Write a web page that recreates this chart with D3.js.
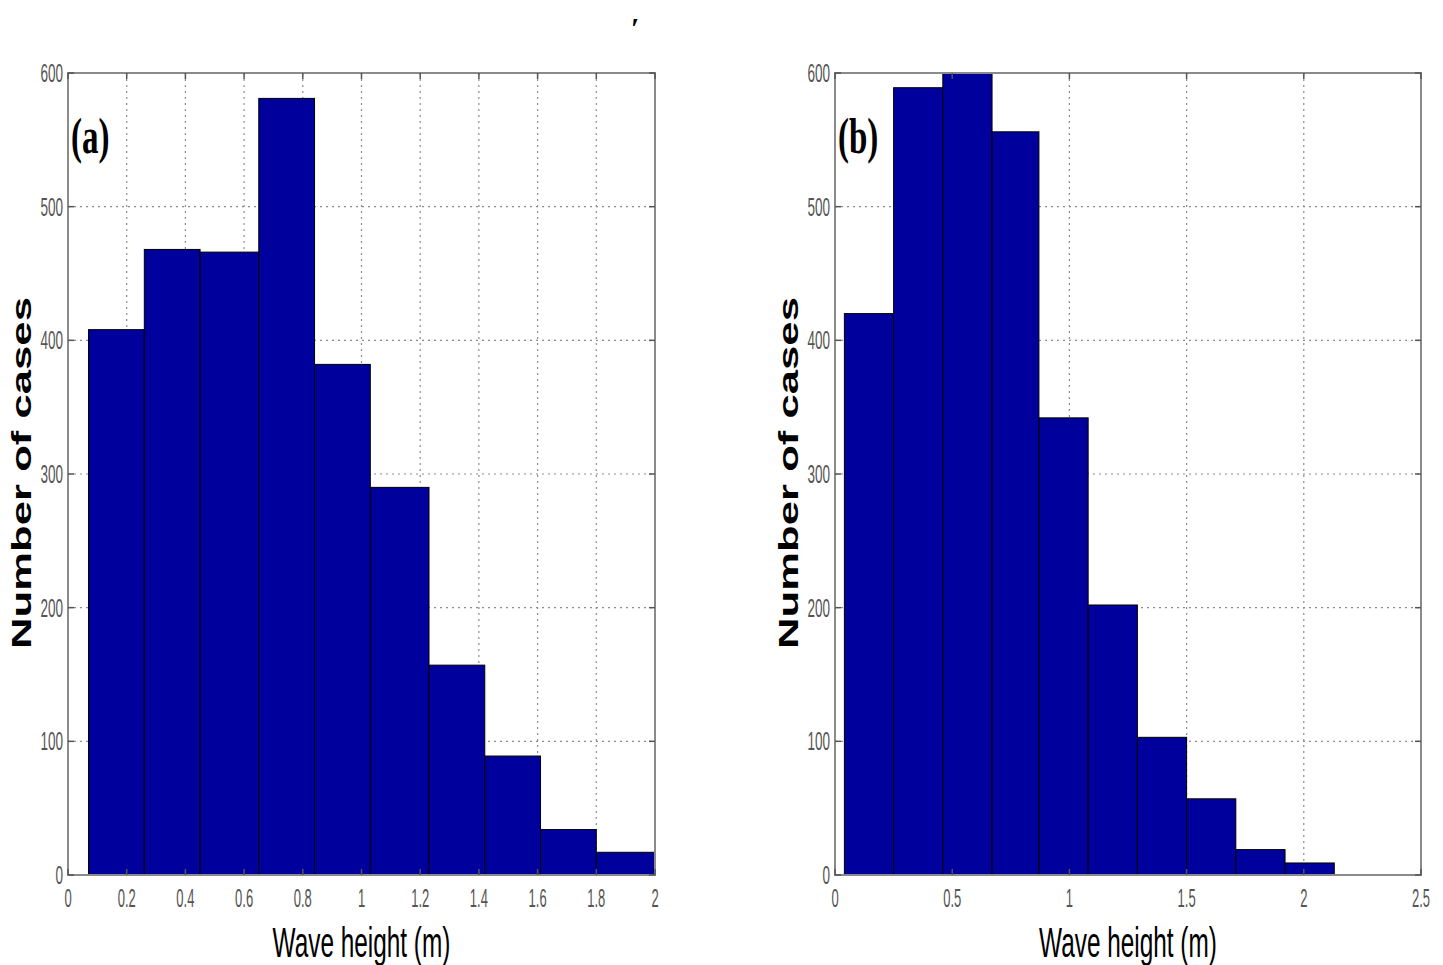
<!DOCTYPE html>
<html>
<head>
<meta charset="utf-8">
<script src="https://cdn.jsdelivr.net/npm/d3@7"></script>
<style>
  html, body { margin: 0; padding: 0; background: #fff; }
  svg { display: block; }
</style>
</head>
<body>
<svg id="chart" width="1443" height="965"></svg>
<script>
// Histogram (a): bin edges (m) and counts
const binEdgesA = [0.07, 0.26, 0.45, 0.65, 0.84, 1.03, 1.23, 1.42, 1.61, 1.80, 2.00];
const countsA   = [408, 468, 466, 581, 382, 290, 157, 89, 34, 17];
const xTicksA   = [0, 0.2, 0.4, 0.6, 0.8, 1, 1.2, 1.4, 1.6, 1.8, 2];
const xTickLabelsA = ["0", "0.2", "0.4", "0.6", "0.8", "1", "1.2", "1.4", "1.6", "1.8", "2"];

// Histogram (b): bin edges (m) and counts
const binEdgesB = [0.04, 0.25, 0.46, 0.67, 0.87, 1.08, 1.29, 1.50, 1.71, 1.92, 2.13];
const countsB   = [420, 589, 600, 556, 342, 202, 103, 57, 19, 9];
const xTicksB   = [0, 0.5, 1, 1.5, 2, 2.5];
const xTickLabelsB = ["0", "0.5", "1", "1.5", "2", "2.5"];

// Shared y axis
const yTicks = [0, 100, 200, 300, 400, 500, 600];
const yTickLabels = ["0", "100", "200", "300", "400", "500", "600"];

const xLabel = "Wave height (m)";
const yLabel = "Number of cases";

const svg = d3.select("#chart");
const barFill = "#00009c";
const axisGrey = "#8a8a8a";

function panel(opts) {
  const { left, right, top, bottom, xMax, edges, counts, xTicks, xTickLabels, tag, gridTop } = opts;
  const x = d3.scaleLinear().domain([0, xMax]).range([left, right]);
  const y = d3.scaleLinear().domain([0, 600]).range([bottom, top]);
  const g = svg.append("g");

  // dotted grid
  g.append("g").selectAll("line").data(xTicks.slice(1, -1)).join("line")
    .attr("x1", d => x(d)).attr("x2", d => x(d))
    .attr("y1", top).attr("y2", bottom)
    .attr("stroke", "#8c8c8c").attr("stroke-width", 1.2)
    .attr("stroke-dasharray", "2,4");
  const gridY = gridTop ? yTicks.slice(1) : yTicks.slice(1, -1);
  g.append("g").selectAll("line").data(gridY).join("line")
    .attr("x1", left).attr("x2", right)
    .attr("y1", d => y(d)).attr("y2", d => y(d))
    .attr("stroke", "#8c8c8c").attr("stroke-width", 1.2)
    .attr("stroke-dasharray", "2,4");

  // bars
  const bins = counts.map((c, i) => ({ x0: edges[i], x1: edges[i + 1], n: c }));
  g.append("g").selectAll("rect").data(bins).join("rect")
    .attr("x", d => x(d.x0))
    .attr("y", d => y(d.n))
    .attr("width", d => x(d.x1) - x(d.x0))
    .attr("height", d => y(0) - y(d.n))
    .attr("fill", barFill)
    .attr("stroke", "#000")
    .attr("stroke-width", 1);

  // box
  g.append("rect").attr("x", left).attr("y", top)
    .attr("width", right - left).attr("height", bottom - top)
    .attr("fill", "none").attr("stroke", axisGrey).attr("stroke-width", 2);

  // inward ticks on all sides
  const tl = 6;
  g.append("g").selectAll("line").data(xTicks).join("line")
    .attr("x1", d => x(d)).attr("x2", d => x(d))
    .attr("y1", bottom).attr("y2", bottom - tl)
    .attr("stroke", "#555").attr("stroke-width", 1.5);
  g.append("g").selectAll("line").data(xTicks).join("line")
    .attr("x1", d => x(d)).attr("x2", d => x(d))
    .attr("y1", top).attr("y2", top + tl)
    .attr("stroke", "#555").attr("stroke-width", 1.5);
  g.append("g").selectAll("line").data(yTicks).join("line")
    .attr("x1", left).attr("x2", left + tl)
    .attr("y1", d => y(d)).attr("y2", d => y(d))
    .attr("stroke", "#555").attr("stroke-width", 1.5);
  g.append("g").selectAll("line").data(yTicks).join("line")
    .attr("x1", right).attr("x2", right - tl)
    .attr("y1", d => y(d)).attr("y2", d => y(d))
    .attr("stroke", "#555").attr("stroke-width", 1.5);

  // tick labels (narrow, tall)
  g.append("g").selectAll("text").data(xTicks).join("text")
    .attr("transform", d => `translate(${x(d)},${bottom + 32}) scale(0.5,1)`)
    .attr("text-anchor", "middle")
    .attr("font-family", "Liberation Sans, Arial, sans-serif")
    .attr("font-size", 26)
    .attr("fill", "#555")
    .text((d, i) => xTickLabels[i]);
  g.append("g").selectAll("text").data(yTicks).join("text")
    .attr("transform", d => `translate(${left - 5},${y(d) + 9}) scale(0.52,1)`)
    .attr("text-anchor", "end")
    .attr("font-family", "Liberation Sans, Arial, sans-serif")
    .attr("font-size", 26)
    .attr("fill", "#555")
    .text((d, i) => yTickLabels[i]);

  // x axis title
  g.append("text")
    .attr("transform", `translate(${(left + right) / 2},${bottom + 82}) scale(0.58,1)`)
    .attr("text-anchor", "middle")
    .attr("font-family", "Liberation Sans, Arial, sans-serif")
    .attr("font-size", 42)
    .attr("fill", "#000")
    .text(xLabel);

  // y axis title
  g.append("text")
    .attr("transform", `translate(${left - 37},${(top + bottom) / 2 - 1}) rotate(-90) scale(1.56,1)`)
    .attr("text-anchor", "middle")
    .attr("font-family", "Liberation Sans, Arial, sans-serif")
    .attr("font-weight", "bold")
    .attr("font-size", 28)
    .attr("fill", "#000")
    .text(yLabel);

  // panel tag
  g.append("text")
    .attr("transform", `translate(${left + 3},${top + 80}) scale(0.66,1)`)
    .attr("font-family", "Liberation Serif, Times New Roman, serif")
    .attr("font-weight", "bold")
    .attr("font-size", 50)
    .attr("fill", "#000")
    .text(tag);
}

panel({ left: 68, right: 655, top: 73, bottom: 875, xMax: 2,
        edges: binEdgesA, counts: countsA, xTicks: xTicksA, xTickLabels: xTickLabelsA,
        tag: "(a)", gridTop: false });
panel({ left: 835, right: 1421, top: 73, bottom: 875, xMax: 2.5,
        edges: binEdgesB, counts: countsB, xTicks: xTicksB, xTickLabels: xTickLabelsB,
        tag: "(b)", gridTop: true });

// small stray mark above the left panel
svg.append("text")
  .attr("x", 631).attr("y", 38)
  .attr("font-family", "Liberation Serif, Times New Roman, serif")
  .attr("font-weight", "bold")
  .attr("font-size", 30)
  .attr("fill", "#000")
  .text("′");
</script>
</body>
</html>
